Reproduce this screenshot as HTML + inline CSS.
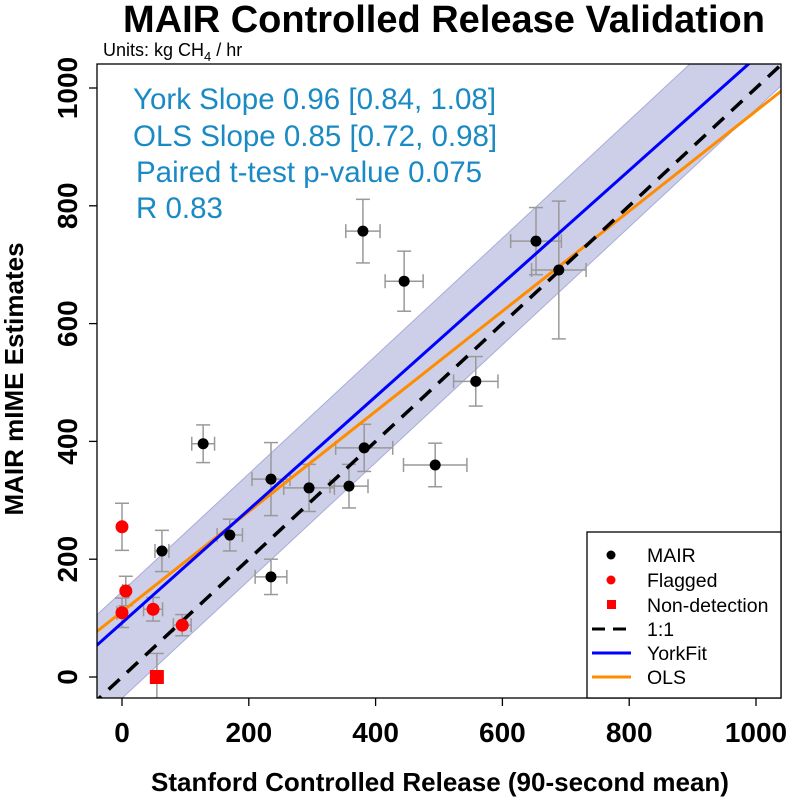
<!DOCTYPE html>
<html><head><meta charset="utf-8"><style>
html,body{margin:0;padding:0;background:#fff}
svg{display:block;font-family:"Liberation Sans",Arial,sans-serif}
</style></head><body>
<svg id="chart" width="787" height="798" viewBox="0 0 787 798" xmlns="http://www.w3.org/2000/svg">
<text x="444" y="32" text-anchor="middle" font-size="38" font-weight="bold">MAIR Controlled Release Validation</text>
<text x="103" y="56" font-size="18">Units: kg CH<tspan font-size="13" dy="5">4</tspan><tspan dy="-5"> / hr</tspan></text>
<text x="440" y="791" text-anchor="middle" font-size="26" font-weight="bold">Stanford Controlled Release (90-second mean)</text>
<text transform="translate(23,379) rotate(-90)" text-anchor="middle" font-size="26" font-weight="bold">MAIR mIME Estimates</text>
<defs><clipPath id="pc"><rect x="97" y="64" width="684" height="634"/></clipPath></defs>
<g id="plot" clip-path="url(#pc)"></g>
<g id="axes"></g>
<g id="ann" fill="#1a8ac4" font-size="29.5">
<text x="133" y="109">York Slope 0.96 [0.84, 1.08]</text>
<text x="133" y="146">OLS Slope 0.85 [0.72, 0.98]</text>
<text x="136" y="182">Paired t-test p-value 0.075</text>
<text x="136" y="218">R 0.83</text>
</g>
<rect x="97" y="64" width="684" height="634" fill="none" stroke="#000" stroke-width="1.3"/>
<g>
<rect x="587" y="532" width="194" height="166" fill="#fff" stroke="#000" stroke-width="1.3"/>
<g font-size="19.5">
<circle cx="611" cy="555" r="4.5" fill="#000"/><text x="647" y="562">MAIR</text>
<circle cx="611" cy="580" r="4.5" fill="#f00"/><text x="647" y="587">Flagged</text>
<rect x="607" y="600" width="9" height="9" fill="#f00"/><text x="647" y="612">Non-detection</text>
<line x1="592" y1="629" x2="631" y2="629" stroke="#000" stroke-width="3" stroke-dasharray="13,8"/><text x="647" y="636">1:1</text>
<line x1="592" y1="653" x2="631" y2="653" stroke="#00f" stroke-width="3"/><text x="647" y="660">YorkFit</text>
<line x1="592" y1="677" x2="631" y2="677" stroke="#ff8c00" stroke-width="3"/><text x="647" y="684">OLS</text>
</g></g>
</svg>
<script>
const xTicks=[0,200,400,600,800,1000];
const yTicks=[0,200,400,600,800,1000];
const mairX=[380,445,653,689,558,494,382,358,295,235,235,170,128,63];
const mairY=[757,672,740,691,502,360,389,324,321,336,170,241,396,214];
const mairXErr=[27,30,40,43,35,50,45,30,40,30,25,20,18,11];
const mairYErr=[54,51,57,117,42,37,40,37,40,62,30,27,32,35];
const flagX=[0,6,0,49,95];
const flagY=[255,146,109,115,88];
const flagXErr=[0,5,8,15,14];
const flagYErr=[40,25,25,20,18];
const ndX=[55];
const ndY=[0];
const ndYErr=[40];
const yorkFit=[92,0.96];
const olsFit=[111,0.85];
const bandUpper=[145,1.0];
const bandLower=[-36,1.0];
const X=v=>122+v*0.634, Y=v=>677-v*0.589;
const NS="http://www.w3.org/2000/svg";
const plot=document.getElementById('plot'), axes=document.getElementById('axes');
function mk(p,tag,a){const e=document.createElementNS(NS,tag);for(const k in a)e.setAttribute(k,a[k]);p.appendChild(e);return e;}
const x0=-50,x1=1100;
const band=mk(plot,'polygon',{points:`${X(x0)},${Y(bandUpper[0]+bandUpper[1]*x0)} ${X(x1)},${Y(bandUpper[0]+bandUpper[1]*x1)} ${X(x1)},${Y(bandLower[0]+bandLower[1]*x1)} ${X(x0)},${Y(bandLower[0]+bandLower[1]*x0)}`,fill:'#cdcfe8',stroke:'#a9acd6'});


function fitLine(f,col,name){const l=mk(plot,'line',{x1:X(x0),y1:Y(f[0]+f[1]*x0),x2:X(x1),y2:Y(f[0]+f[1]*x1),stroke:col,'stroke-width':3});

}
function errs(xs,ys,xe,ye){for(let i=0;i<xs.length;i++){const cx=X(xs[i]),cy=Y(ys[i]);
const g=mk(plot,'g',{stroke:'#999','stroke-width':1.5,fill:'none'});


if(ye&&ye[i]){const a=Y(ys[i]+ye[i]),b=Y(ys[i]-ye[i]);mk(g,'line',{x1:cx,y1:a,x2:cx,y2:b});mk(g,'line',{x1:cx-7,y1:a,x2:cx+7,y2:a});mk(g,'line',{x1:cx-7,y1:b,x2:cx+7,y2:b});}
if(xe&&xe[i]){const a=X(xs[i]-xe[i]),b=X(xs[i]+xe[i]);mk(g,'line',{x1:a,y1:cy,x2:b,y2:cy});mk(g,'line',{x1:a,y1:cy-7,x2:a,y2:cy+7});mk(g,'line',{x1:b,y1:cy-7,x2:b,y2:cy+7});}}}
errs(mairX,mairY,mairXErr,mairYErr);errs(flagX,flagY,flagXErr,flagYErr);errs(ndX,ndY,null,ndYErr);
fitLine(olsFit,'#ff8c00','ols-line');
fitLine(yorkFit,'#0000ff','york-fit-line');
const one=mk(plot,'line',{x1:X(x0),y1:Y(x0),x2:X(x1),y2:Y(x1),stroke:'#000','stroke-width':3.5,'stroke-dasharray':'15,10'});


mairX.forEach((v,i)=>{const c=mk(plot,'circle',{cx:X(v),cy:Y(mairY[i]),r:5.5,fill:'#000'});

});
flagX.forEach((v,i)=>{const c=mk(plot,'circle',{cx:X(v),cy:Y(flagY[i]),r:6.5,fill:'#f00'});

});
ndX.forEach((v,i)=>{const c=mk(plot,'rect',{x:X(v)-7,y:Y(ndY[i])-7,width:14,height:14,fill:'#f00'});

});
xTicks.forEach(t=>{mk(axes,'line',{x1:X(t),y1:698,x2:X(t),y2:706,stroke:'#000','stroke-width':1.3});
const tx=mk(axes,'text',{x:X(t),y:742,'text-anchor':'middle','font-size':28,'font-weight':'bold'});tx.textContent=t;

});
yTicks.forEach(t=>{mk(axes,'line',{x1:89,y1:Y(t),x2:97,y2:Y(t),stroke:'#000','stroke-width':1.3});
const tx=mk(axes,'text',{transform:`translate(77,${Y(t)}) rotate(-90)`,'text-anchor':'middle','font-size':28,'font-weight':'bold'});tx.textContent=t;

});
</script>
</body></html>
